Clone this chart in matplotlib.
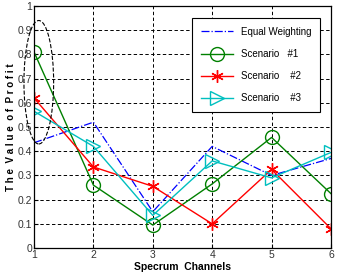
import matplotlib.pyplot as plt
from matplotlib.patches import Ellipse

channels = [1, 2, 3, 4, 5, 6]
equal_w = [0.435, 0.52, 0.15, 0.42, 0.30, 0.37]
scen1 = [0.81, 0.26, 0.095, 0.265, 0.457, 0.225]
scen2 = [0.62, 0.335, 0.255, 0.10, 0.325, 0.08]
scen3 = [0.565, 0.42, 0.135, 0.36, 0.29, 0.395]

plt.rcParams['font.family'] = ['Liberation Sans', 'DejaVu Sans']
fig = plt.figure(figsize=(3.37, 2.72), dpi=100)
ax = fig.add_axes([0.101, 0.088, 0.881, 0.89])

ax.plot(channels, equal_w, '-.', color='#0000ff', lw=0.9, label='Equal Weighting')
ax.plot(channels, scen1, '-', color='#008000', lw=1.0, marker='o', ms=10,
        mfc='none', mew=1.0, label='Scenario   #1')
# matlab style asterisk
ax.plot(channels, scen2, '-', color='#ff0000', lw=1.0, marker=(6, 2, 0), ms=9,
        mew=1.0, label='Scenario    #2')
ax.plot(channels, scen3, '-', color='#00bfbf', lw=1.0, marker='>', ms=10,
        mfc='none', mew=1.0, label='Scenario    #3')

# dashed ellipse round the first channel
ax.add_patch(Ellipse((1.08, 0.685), 0.5, 0.51, fill=False, ls='--',
                     color='k', lw=0.8, clip_on=False, zorder=5))

ax.set_xlim(1, 6)
ax.set_ylim(0, 1)
ax.set_xticks(channels)
ax.set_yticks([i / 10 for i in range(11)])
ax.set_yticklabels(['0'] + ['0.%d' % i for i in range(1, 10)] + ['1'])
ax.tick_params(labelsize=7.5, direction='in', length=3, pad=1.5, labelcolor='#333333')
ax.grid(True, ls=(0, (3.5, 2.5)), color='k', lw=0.7)
for s in ax.spines.values():
    s.set_linewidth(0.9)

ax.set_xlabel('Specrum  Channels', fontsize=7.5, fontweight='bold', labelpad=1)
ax.set_ylabel('T h e  V a l u e  o f  P r o f i t', fontsize=7, fontweight='bold', labelpad=1)

leg = ax.legend(loc='upper right', fontsize=7, handlelength=3.3, labelspacing=1.25,
                fancybox=False, framealpha=1, edgecolor='k', borderpad=0.9,
                bbox_to_anchor=(0.98, 0.97))
leg.get_frame().set_linewidth(0.8)

plt.savefig('out.png', dpi=100)
